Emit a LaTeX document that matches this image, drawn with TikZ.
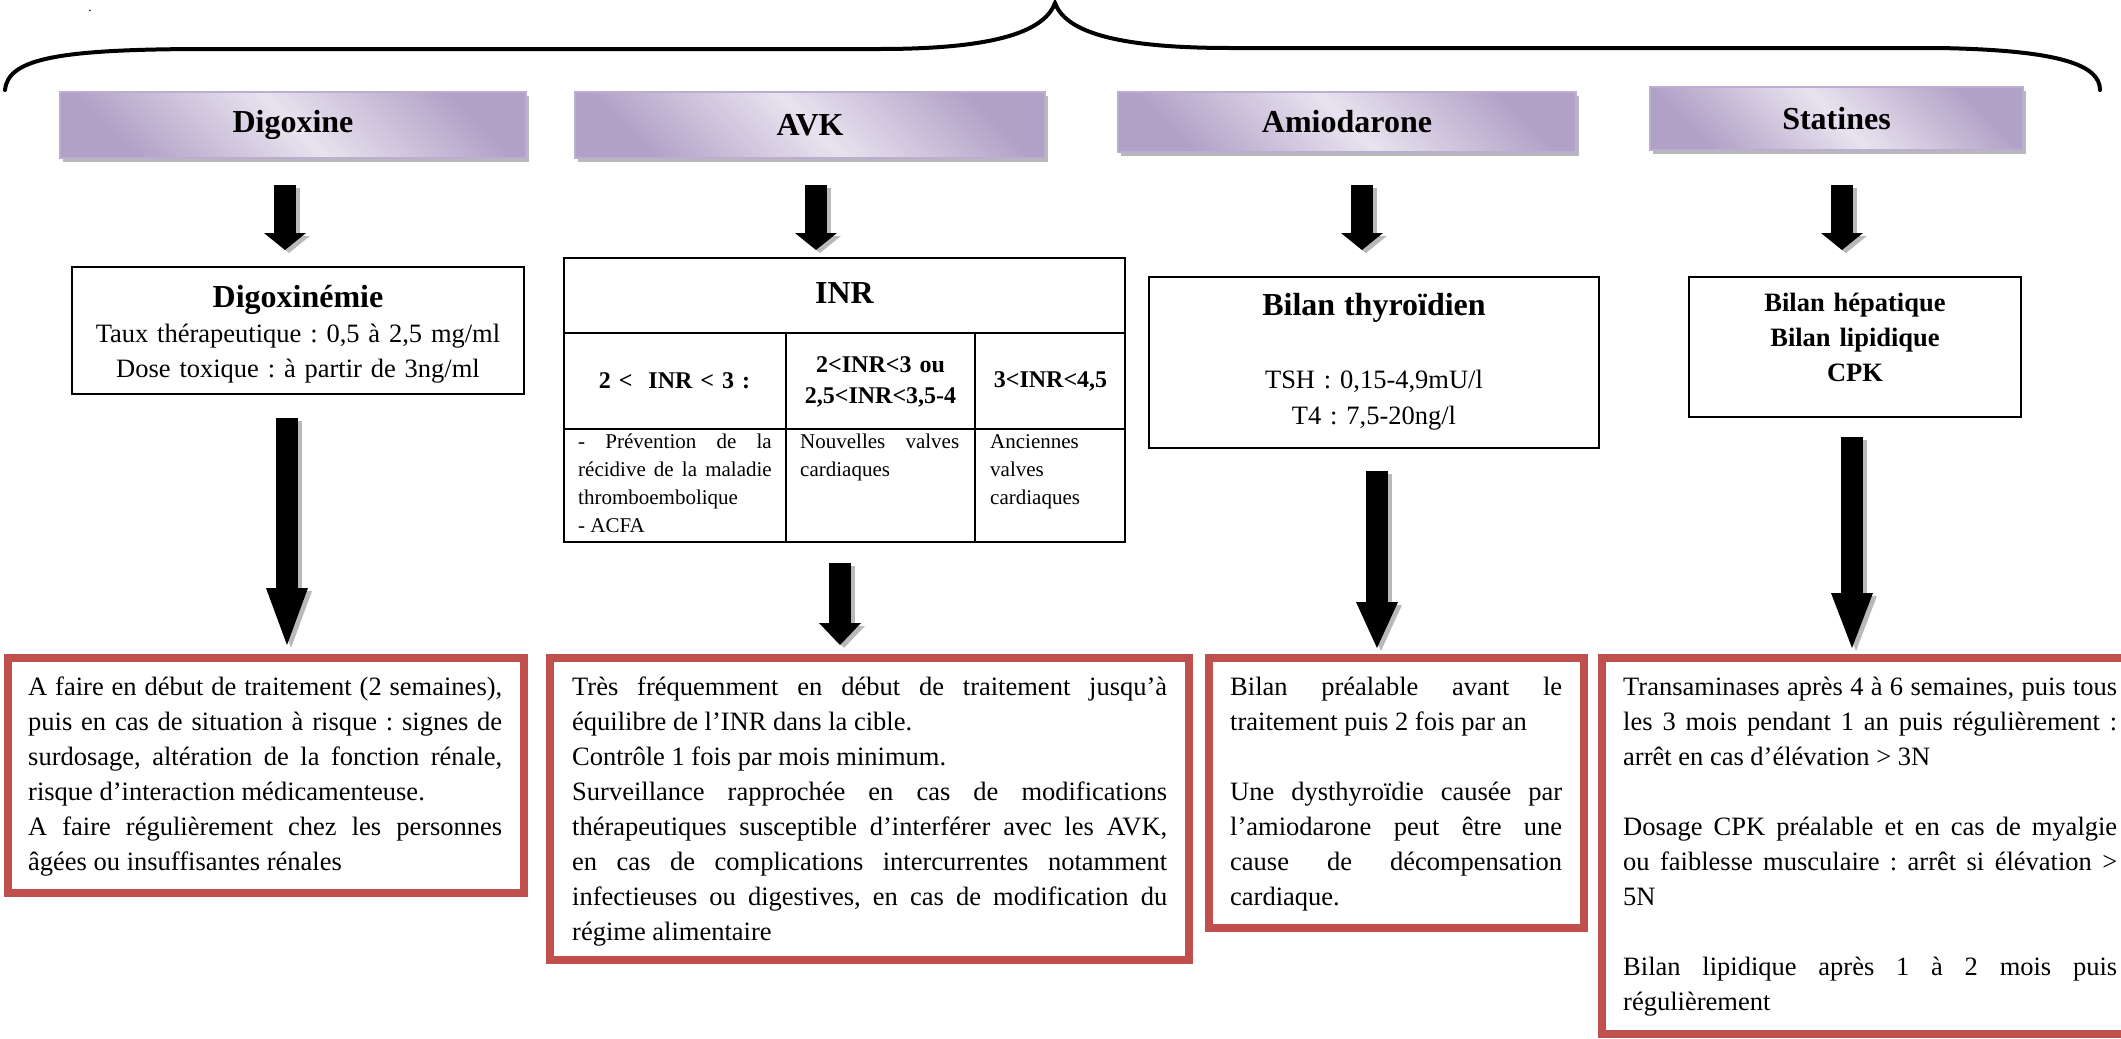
\documentclass[tikz,border=0pt]{standalone}
\usepackage{fontspec}
\setmainfont{Liberation Serif}
\usetikzlibrary{arrows.meta,shadows}
\setlength{\parindent}{0pt}
\frenchspacing

\definecolor{hdrdark}{HTML}{B2A1C7}
\definecolor{hdrlight}{HTML}{E8E3EF}
\definecolor{hdrline}{HTML}{BCAED2}
\definecolor{survred}{HTML}{C0504D}

\tikzset{
  hdr/.style={draw=hdrline, line width=1.5pt, outer sep=0pt,
    top color=hdrdark, bottom color=hdrdark, middle color=hdrlight, shading angle=-45,
    drop shadow={shadow xshift=3pt, shadow yshift=-4pt, fill=gray!55, opacity=1},
    font=\fontsize{32}{36}\selectfont\bfseries},
  plainbox/.style={draw, line width=2.2pt, outer sep=0pt, inner sep=0pt},
  survbox/.style={draw=survred, line width=8pt, outer sep=0pt, inner sep=0pt},
  bodytxt/.style={anchor=base west, inner sep=0pt, text width=#1, align=justify,
    font=\fontsize{26.5}{35}\selectfont},
  coltxt/.style={anchor=base west, inner sep=0pt, text width=#1, align=justify,
    font=\fontsize{21}{28}\selectfont},
  midtxt/.style={anchor=base, inner sep=0pt, text width=#1, align=center,
    font=\fontsize{26.5}{35}\selectfont},
  inrtxt/.style={anchor=base, inner sep=0pt, text width=#1, align=center,
    font=\fontsize{24}{31}\selectfont\bfseries},
  blockarrow/.style={line width=22pt, draw=black, -{Triangle[length=#1, width=42pt, line width=0pt]}},
  arrowshade/.style={line width=22pt, draw=gray!55, -{Triangle[length=#1, width=42pt, line width=0pt]}},
}

\begin{document}
\begin{tikzpicture}[x=1pt,y=-1pt]
  \useasboundingbox (0,0) rectangle (2121,1039);
  \clip (0,0) rectangle (2121,1039);

  % accolade
  \draw[line width=4pt, line cap=round] (5,90) .. controls (8,58) and (60,49) .. (210,49)
    -- (880,49) .. controls (1000,49) and (1045,30) .. (1055,3)
    .. controls (1065,30) and (1110,48) .. (1230,48)
    -- (1938,48) .. controls (2060,50) and (2100,65) .. (2100,90);
  \node[font=\fontsize{14}{14}\selectfont, inner sep=0pt] (dot) at (90,11) {.};

  % medicaments
  \node[hdr, minimum width=466pt, minimum height=66pt] (dig) at (293,125) {Digoxine};
  \node[hdr, minimum width=470pt, minimum height=66pt] (avk) at (810,125) {AVK};
  \node[hdr, minimum width=458pt, minimum height=60pt] (amio) at (1347,122) {Amiodarone};
  \node[hdr, minimum width=373pt, minimum height=63pt] (stat) at (1836.5,118.5) {Statines};

  % examens
  \node[plainbox, minimum width=452pt, minimum height=127pt] (digem) at (298,330.5) {};
  \node[plainbox, minimum width=561pt, minimum height=284pt] (inr) at (844.5,400) {};
  \node[plainbox, minimum width=450pt, minimum height=171pt] (thyr) at (1374,362.5) {};
  \node[plainbox, minimum width=332pt, minimum height=140pt] (hep) at (1855,347) {};

  \node[midtxt=452pt] (digemtxt) at (298,307)
    {{\fontsize{32}{35}\selectfont\bfseries Digoxinémie}\\
     Taux thérapeutique : 0,5 à 2,5 mg/ml\\
     Dose toxique : à partir de 3ng/ml};
  \node[midtxt=450pt, font=\fontsize{26.5}{36.5}\selectfont] (thyrtxt) at (1374,315)
    {{\fontsize{32}{36.5}\selectfont\bfseries Bilan thyroïdien}\\ \mbox{}\\
     TSH : 0,15-4,9mU/l\\ T4 : 7,5-20ng/l};
  \node[midtxt=332pt, font=\fontsize{26.5}{35}\selectfont\bfseries] (heptxt) at (1855,311.5)
    {Bilan hépatique\\ Bilan lipidique\\ CPK};

  % tableau INR
  \coordinate (rowA) at (0,333);
  \coordinate (rowB) at (0,429);
  \coordinate (colA) at (786,0);
  \coordinate (colB) at (975,0);
  \draw[line width=2.2pt] (inr.west |- rowA) -- (inr.east |- rowA)
    (inr.west |- rowB) -- (inr.east |- rowB)
    (colA |- rowA) -- (colA |- inr.south)
    (colB |- rowA) -- (colB |- inr.south);
  \node[inrtxt=300pt, font=\fontsize{32}{35}\selectfont\bfseries] (inrtitle) at (844.5,303) {INR};
  \node[inrtxt=215pt] (inrA) at (674.5,388) {2 <\ \ INR < 3 :};
  \node[inrtxt=185pt] (inrB) at (880.5,372) {2<INR<3 ou\\ 2,5<INR<3,5-4};
  \node[inrtxt=145pt] (inrC) at (1050.5,387) {3<INR<4,5};
  \node[coltxt=193.5pt] (colAtxt) at (578,448)
    {- Prévention de la\linebreak récidive de la maladie\linebreak thromboembolique\par - ACFA};
  \node[coltxt=159pt] (colBtxt) at (800,448) {Nouvelles valves\linebreak cardiaques};
  \node[coltxt=125pt, align=left] (colCtxt) at (990,448) {Anciennes\\ valves\\ cardiaques};

  % surveillance
  \node[survbox, minimum width=516pt, minimum height=235pt] (surv1) at (265.5,775.5) {};
  \node[survbox, minimum width=639pt, minimum height=302pt] (surv2) at (869.5,809) {};
  \node[survbox, minimum width=375pt, minimum height=270pt] (surv3) at (1396.5,793) {};
  \node[survbox, minimum width=528pt, minimum height=376pt] (surv4) at (1866,846) {};

  \node[bodytxt=474pt] (surv1txt) at (28,695)
    {A faire en début de traitement (2 semaines),\linebreak
     puis en cas de situation à risque : signes de\linebreak
     surdosage, altération de la fonction rénale,\linebreak
     risque d’interaction médicamenteuse.\par
     A faire régulièrement chez les personnes\linebreak
     âgées ou insuffisantes rénales};
  \node[bodytxt=595pt] (surv2txt) at (572,695)
    {Très fréquemment en début de traitement jusqu’à\linebreak
     équilibre de l’INR dans la cible.\par
     Contrôle 1 fois par mois minimum.\par
     Surveillance rapprochée en cas de modifications\linebreak
     thérapeutiques susceptible d’interférer avec les AVK,\linebreak
     en cas de complications intercurrentes notamment\linebreak
     infectieuses ou digestives, en cas de modification du\linebreak
     régime alimentaire};
  \node[bodytxt=332pt] (surv3txt) at (1230,695)
    {Bilan préalable avant le\linebreak
     traitement puis 2 fois par an\par\strut\par
     Une dysthyroïdie causée par\linebreak
     l’amiodarone peut être une\linebreak
     cause de décompensation\linebreak
     cardiaque.};
  \node[bodytxt=494pt] (surv4txt) at (1623,695)
    {Transaminases après 4 à 6 semaines, puis tous\linebreak
     les 3 mois pendant 1 an puis régulièrement :\linebreak
     arrêt en cas d’élévation > 3N\par\strut\par
     Dosage CPK préalable et en cas de myalgie\linebreak
     ou faiblesse musculaire : arrêt si élévation >\linebreak
     5N\par\strut\par
     Bilan lipidique après 1 à 2 mois puis\linebreak
     régulièrement};

  % fleches
  \foreach \ax/\from/\to/\sa/\sb/\hl in {285/dig/digem/27/17/17, 816/avk/inr/27/8/17,
      1362/amio/thyr/33/27/17, 1842/stat/hep/35/27/17, 287/digem/surv1/24/13/57,
      840/inr/surv2/21/13/22, 1377/thyr/surv3/23/10/46, 1852/hep/surv4/20/10/55}{
    \draw[arrowshade=\hl pt, shorten <=\sa pt, shorten >=\sb pt,
      transform canvas={shift={(4pt,-3pt)}}] (\ax,0 |- \from.south) -- (\ax,0 |- \to.north);
    \draw[blockarrow=\hl pt, shorten <=\sa pt, shorten >=\sb pt]
      (\ax,0 |- \from.south) -- (\ax,0 |- \to.north);
  }
\end{tikzpicture}
\end{document}
